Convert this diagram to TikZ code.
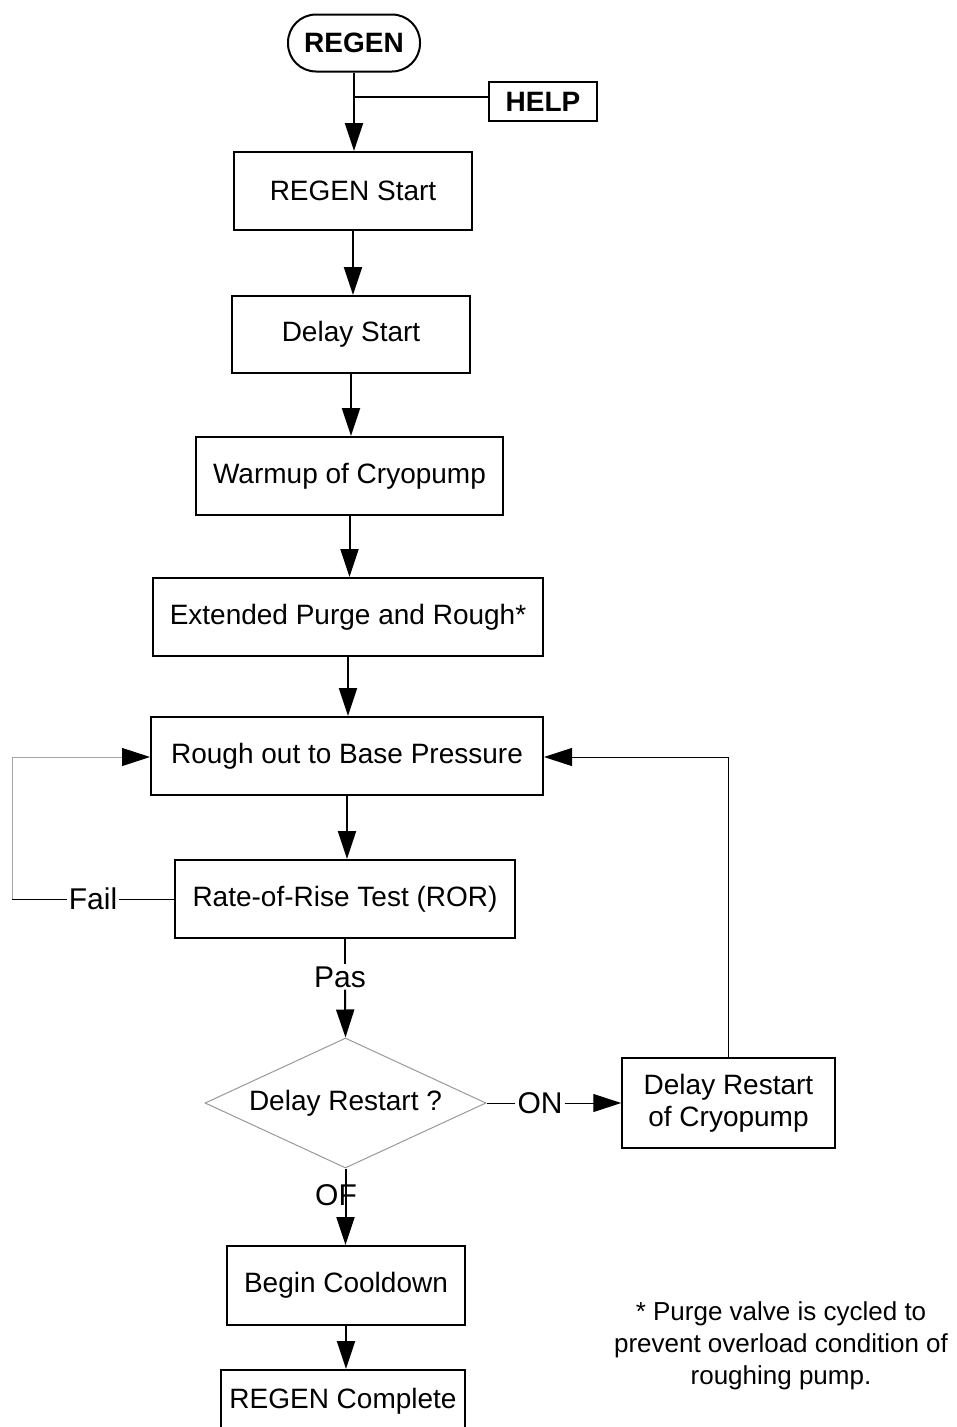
\documentclass[tikz,border=0pt]{standalone}
\usepackage{fontspec}
\setmainfont{Liberation Sans}
\usetikzlibrary{arrows.meta,shapes.geometric}
\begin{document}
\begin{tikzpicture}[x=1pt,y=-1pt,
  box/.style={draw,line width=2pt,inner sep=0pt,font=\fontsize{28}{33}\selectfont},
  lbl/.style={inner sep=2pt,font=\fontsize{30}{34}\selectfont},
  arr/.style={-{Triangle[length=28pt,width=18pt,color=black,fill=black]}},
  con/.style={line width=2pt},
  thinline/.style={line width=1pt},
]
\clip (0,0) rectangle (957,1427);
\node[box,rounded corners=28pt,minimum width=132pt,minimum height=57pt,font=\bfseries\fontsize{28}{33}\selectfont] (regen) at (354,43) {REGEN};
\node[box,minimum width=108pt,minimum height=39pt,font=\bfseries\fontsize{28}{33}\selectfont] (help) at (543,101.5) {HELP};
\node[box,minimum width=238pt,minimum height=78pt] (start) at (353,191) {REGEN Start};
\node[box,minimum width=238pt,minimum height=77pt] (delay) at (351,334.5) {Delay Start};
\node[box,minimum width=307pt,minimum height=78pt] (warm) at (349.5,476) {Warmup of Cryopump};
\node[box,minimum width=390pt,minimum height=78pt] (ext) at (348,617) {Extended Purge and Rough*};
\node[box,minimum width=392pt,minimum height=78pt] (rough) at (347,756) {Rough out to Base Pressure};
\node[box,minimum width=340pt,minimum height=78pt] (ror) at (345,899) {Rate-of-Rise Test (ROR)};
\node[diamond,draw=gray!80,line width=1pt,inner sep=0pt,aspect=2.16,minimum width=281pt,minimum height=130pt,font=\fontsize{28}{33}\selectfont] (dia) at (345.5,1103) {Delay Restart ?};
\node[box,line width=1.5pt,minimum width=213pt,minimum height=90pt,align=center,font=\fontsize{28}{32}\selectfont] (drc) at (728.5,1103) {Delay Restart\\of Cryopump};
\node[box,minimum width=238pt,minimum height=79pt] (cool) at (346,1285.5) {Begin Cooldown};
\node[box,minimum width=244pt,minimum height=62pt] (done) at (343,1401) {REGEN Complete};
\node[align=center,font=\fontsize{26}{32}\selectfont] (note) at (781,1346) {* Purge valve is cycled to\\prevent overload condition of\\roughing pump.};

\node[lbl] (fail) at (93,899) {Fail};
\node[lbl] (pas) at (340,977) {Pas};
\node[lbl] (on) at (540,1103) {ON};
\node[lbl] (of) at (336,1195) {OF};

\coordinate (j) at (353,97);
\draw[con,arr] (regen.south) -- (regen.south |- start.north);
\draw[con] (j) -- (j -| help.west);
\draw[con,arr] (start.south) -- (start.south |- delay.north);
\draw[con,arr] (delay.south) -- (delay.south |- warm.north);
\draw[con,arr] (warm.south) -- (warm.south |- ext.north);
\draw[con,arr] (ext.south) -- (ext.south |- rough.north);
\draw[con,arr] (rough.south) -- (rough.south |- ror.north);

\coordinate (fl) at (12,899);
\coordinate (fu) at (12,757);
\draw[thinline] (ror.west) -- (fail.east);
\draw[thinline] (fail.west) -- (fl);
\draw[thinline,gray!70,arr] (fl) -- (fu) -- (fu -| rough.west);

\draw[con] (ror.south) -- (ror.south |- pas.north);
\draw[con,arr] (ror.south |- pas.south) -- (dia.north);

\draw[thinline] (dia.east) -- (dia.east -| on.west);
\draw[thinline,arr] (on.east) -- (on.east -| drc.west);

\coordinate (ru) at (728.5,757);
\draw[thinline,arr] (drc.north) -- (ru) -- (ru -| rough.east);

\draw[con,arr] (dia.south) -- (dia.south |- cool.north);
\draw[con,arr] (cool.south) -- (cool.south |- done.north);
\end{tikzpicture}
\end{document}
